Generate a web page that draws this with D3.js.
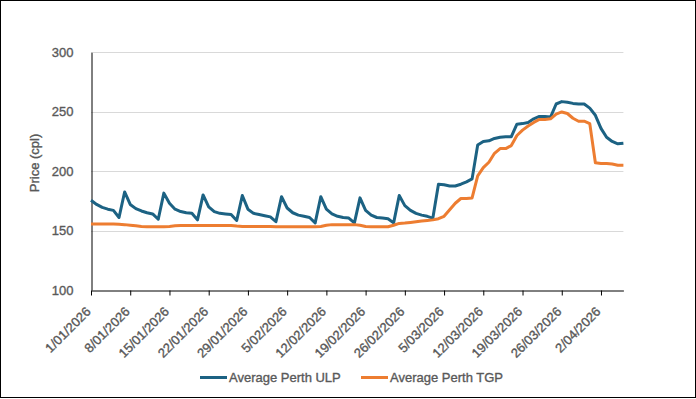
<!DOCTYPE html>
<html>
<head>
<meta charset="utf-8">
<script src="https://cdn.jsdelivr.net/npm/d3@7"></script>
<style>
  body { margin: 0; background: #fff; }
  svg text {
    font-family: "Liberation Sans", Arial, sans-serif;
    fill: #595959;
    stroke: #595959;
    stroke-width: 0.35px;
  }
</style>
</head>
<body>
<svg id="chart" width="696" height="399"></svg>
<script>
// daily prices from 1/01/2026 to 6/04/2026 (cents per litre)
const firstDay = '1/01/2026';
const lastDay = '6/04/2026';

const ulp = [
  175.5, 172, 169.5, 168, 167, 161, 182.5,
  172, 168.5, 166.5, 165, 164, 159.5, 181.5,
  173, 168, 166, 165, 164.5, 159, 180,
  170, 166, 164.5, 164, 163.5, 158.5, 179.5,
  168, 164.5, 163.5, 162.5, 161.5, 157.5, 178.5,
  169, 165, 163, 162, 161, 156.5, 178.5,
  168, 164, 162, 161, 160.5, 156.5, 177.5,
  167, 163, 161, 160.5, 160, 156.5, 179.5,
  171, 167, 164.5, 163, 162, 160.5, 189,
  188.5, 187.5, 187.5, 189, 191, 193.5, 222,
  225, 225.5, 227.5, 228.5, 229, 229, 239.5,
  240, 241, 244, 246, 246, 245.5, 256.5,
  258.5, 258, 257, 256.5, 256.5, 253, 247,
  236, 228.5, 225, 223, 223.5
];

const tgp = [
  155.5, 155.5, 155.5, 155.5, 155.5, 155.3, 155,
  154.5, 154, 153.5, 153.2, 153.2, 153.2, 153.2,
  153.5, 154, 154.3, 154.3, 154.3, 154.3, 154.3,
  154.3, 154.3, 154.3, 154.3, 154.3, 153.8, 153.5,
  153.5, 153.5, 153.5, 153.5, 153.5, 153.2, 153.2,
  153.2, 153.2, 153.2, 153.2, 153.2, 153.2, 153.5,
  154.5, 155, 155, 155, 155, 155, 154.5,
  153.5, 153.2, 153.2, 153.2, 153.2, 154.5, 156,
  156.3, 156.8, 157.4, 158, 158.5, 159, 160,
  162, 167.5, 173, 177, 177, 177.5, 196,
  203, 207.5, 215, 219, 219, 221.5, 230,
  234.5, 238, 241, 243.5, 243.5, 244, 248,
  249.8, 248.5, 244.5, 242, 242, 240, 207,
  206.5, 206.5, 206, 205, 205
];

const seriesNames = ['Average Perth ULP', 'Average Perth TGP'];
const seriesColors = ['#1c6283', '#ed7d31'];

const yTicks = [100, 150, 200, 250, 300];
const xTickLabels = [
  '1/01/2026', '8/01/2026', '15/01/2026', '22/01/2026', '29/01/2026',
  '5/02/2026', '12/02/2026', '19/02/2026', '26/02/2026', '5/03/2026',
  '12/03/2026', '19/03/2026', '26/03/2026', '2/04/2026'
];

const parse = d3.timeParse('%d/%m/%Y');
const fmt = d3.timeFormat('%-d/%m/%Y');
const start = parse(firstDay);
const end = parse(lastDay);
const days = d3.timeDay.range(start, d3.timeDay.offset(end, 1));

const svg = d3.select('#chart');
const W = 696, H = 399;

// outer chart border
svg.append('rect')
  .attr('x', 0.5).attr('y', 0.5)
  .attr('width', W - 1).attr('height', H - 2)
  .attr('fill', '#fff')
  .attr('stroke', '#000');

const plot = { left: 91, right: 623.4, top: 52.3, bottom: 290 };

const x = d3.scaleTime()
  .domain([start, end])
  .range([plot.left, plot.right]);

const y = d3.scaleLinear()
  .domain([100, 300])
  .range([plot.bottom, plot.top]);

// gridlines
svg.append('g')
  .selectAll('line')
  .data(yTicks.filter(d => d > 100))
  .join('line')
  .attr('x1', plot.left).attr('x2', plot.right)
  .attr('y1', d => Math.round(y(d)) + 0.5)
  .attr('y2', d => Math.round(y(d)) + 0.5)
  .attr('stroke', '#d9d9d9')
  .attr('stroke-width', 1);

// y axis
let yAxis = svg.append('g')
  .attr('transform', `translate(${plot.left + 0.5},0)`)
  .call(d3.axisLeft(y).tickValues(yTicks).tickSize(0).tickPadding(18));
yAxis.select('.domain').attr('stroke', '#000');
yAxis.selectAll('text')
  .attr('font-size', 13)
  .style('font-family', '"Liberation Sans", Arial, sans-serif')
  .attr('fill', '#595959');

// x axis
let xAxis = svg.append('g')
  .attr('transform', `translate(0,${plot.bottom + 0.5})`)
  .call(d3.axisBottom(x)
    .tickValues(xTickLabels.map(parse))
    .tickFormat(fmt)
    .tickSize(5)
    .tickSizeOuter(0));
xAxis.select('.domain').attr('stroke', '#000');
xAxis.selectAll('.tick line').attr('stroke', '#000');
xAxis.selectAll('text')
  .attr('font-size', 13)
  .style('font-family', '"Liberation Sans", Arial, sans-serif')
  .attr('fill', '#595959')
  .attr('text-anchor', 'end')
  .attr('x', 0).attr('y', 0).attr('dy', 0)
  .attr('transform', 'translate(0,22) rotate(-45)');

// y axis title
svg.append('text')
  .attr('transform', 'translate(39,163) rotate(-90)')
  .attr('text-anchor', 'middle')
  .attr('font-size', 13)
  .text('Price (cpl)');

// lines
const line = d3.line()
  .x((d, i) => x(days[i]))
  .y(d => y(d));

[ulp, tgp].forEach((vals, k) => {
  svg.append('path')
    .datum(vals)
    .attr('fill', 'none')
    .attr('stroke', seriesColors[k])
    .attr('stroke-width', 3)
    .attr('stroke-linejoin', 'round')
    .attr('stroke-linecap', 'butt')
    .attr('d', line);
});

// legend
const legendX = [200, 361];
const legend = svg.append('g');
seriesNames.forEach((name, k) => {
  legend.append('line')
    .attr('x1', legendX[k]).attr('x2', legendX[k] + 27)
    .attr('y1', 377.5).attr('y2', 377.5)
    .attr('stroke', seriesColors[k])
    .attr('stroke-width', 3);
  legend.append('text')
    .attr('x', legendX[k] + 29)
    .attr('y', 382)
    .attr('font-size', 13)
    .text(name);
});
</script>
</body>
</html>
